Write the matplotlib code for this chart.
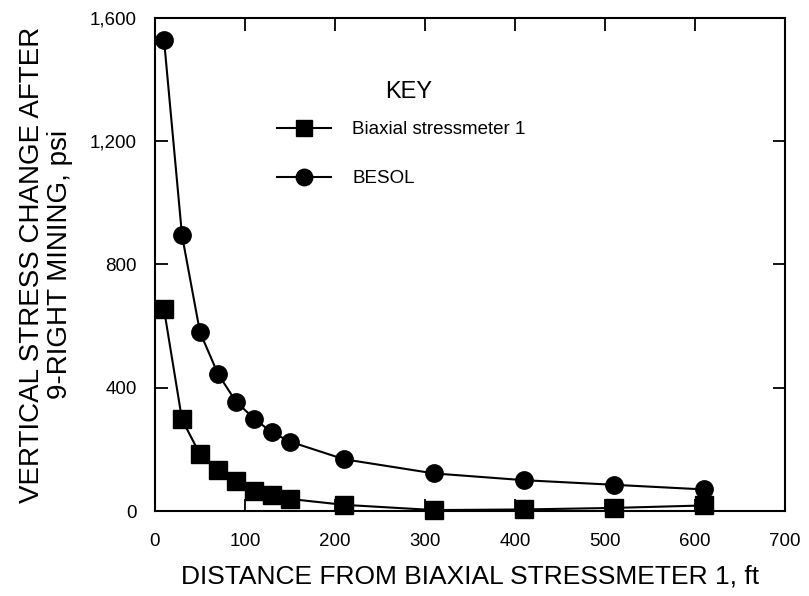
import matplotlib
matplotlib.use("Agg")
import matplotlib.pyplot as plt
from matplotlib.ticker import FuncFormatter

plt.rcParams['font.family'] = ['Liberation Sans', 'DejaVu Sans']

# distance from biaxial stressmeter 1, ft
distance = [10, 30, 50, 70, 90, 110, 130, 150, 210, 310, 410, 510, 610]
# vertical stress change after 9-right mining, psi
stressmeter = [655, 297, 184, 134, 96, 65, 53, 39, 20, 3, 5, 10, 18]
besol = [1530, 895, 580, 445, 355, 300, 255, 225, 168, 122, 100, 85, 70]

x_ticks = [0, 100, 200, 300, 400, 500, 600, 700]
y_ticks = [0, 400, 800, 1200, 1600]

fig = plt.figure(figsize=(8.09, 5.96), dpi=100)
ax = fig.add_axes([155 / 809, 1 - 511 / 596, 630 / 809, 493 / 596])

ax.plot(distance, stressmeter, color='black', lw=1.5, marker='s', ms=12.5,
        label='Biaxial stressmeter 1', clip_on=False, zorder=3)
ax.plot(distance, besol, color='black', lw=1.5, marker='o', ms=12.5,
        label='BESOL', clip_on=False, zorder=3)

ax.set_xlim(0, 700)
ax.set_ylim(0, 1600)
ax.set_xticks(x_ticks)
ax.set_yticks(y_ticks)
ax.yaxis.set_major_formatter(FuncFormatter(lambda v, p: f"{int(v):,}"))

ax.tick_params(direction='in', length=9, width=1.3, labelsize=13.5,
               top=True, right=True)
ax.tick_params(axis='x', pad=16)
ax.tick_params(axis='y', pad=13)
for s in ax.spines.values():
    s.set_linewidth(1.5)

ax.set_xlabel("DISTANCE FROM BIAXIAL STRESSMETER 1, ft", fontsize=19, labelpad=10)
ax.set_ylabel("VERTICAL STRESS CHANGE AFTER\n9-RIGHT MINING, psi", fontsize=20,
              labelpad=12, linespacing=1.1)

ax.text(409 / 809, 1 - 92 / 596, "KEY", transform=fig.transFigure,
        fontsize=17, ha='center', va='center')
leg = ax.legend(loc='upper left', bbox_to_anchor=(277 / 809, 1 - 121 / 596),
                bbox_transform=fig.transFigure, frameon=False,
                fontsize=13.5, handlelength=2.9, handletextpad=1.1,
                labelspacing=1.7, borderpad=0, borderaxespad=0,
                markerscale=0.95)

fig.savefig("out.png", dpi=100)
